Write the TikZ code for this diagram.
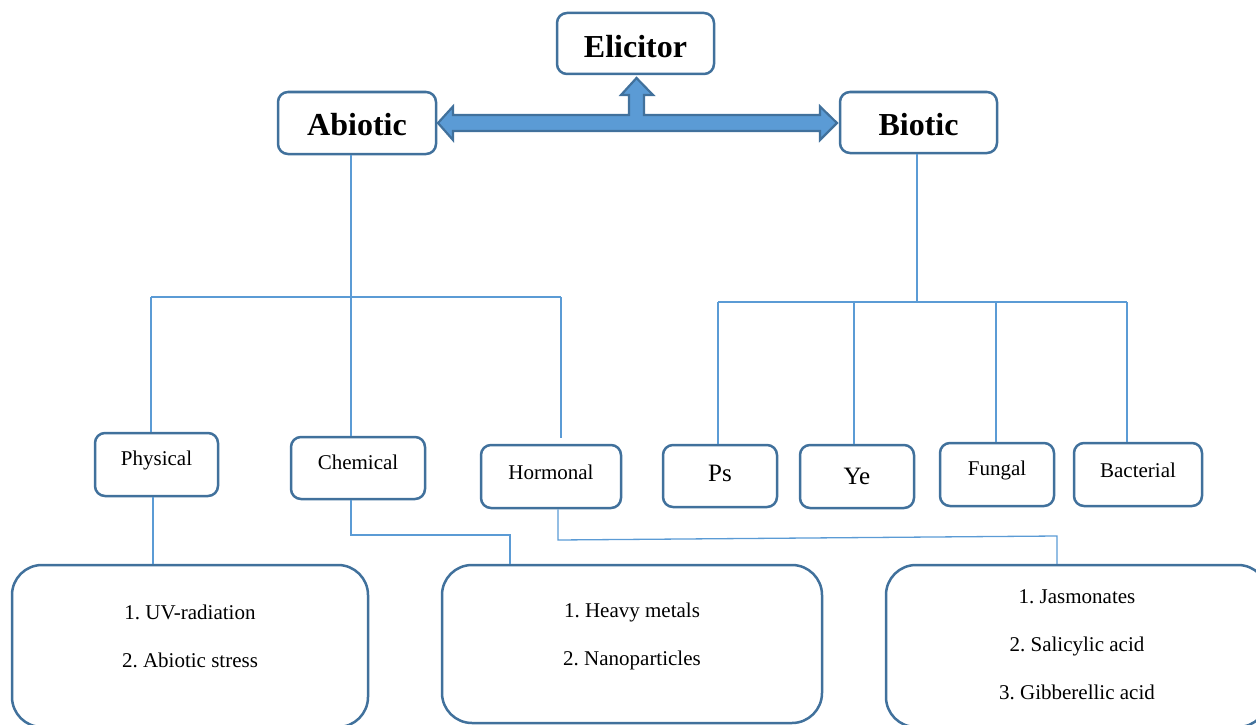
\documentclass[tikz,border=0pt]{standalone}
\usepackage{fontspec}
\setmainfont{Liberation Serif}
\frenchspacing
\definecolor{boxblue}{HTML}{41719C}
\definecolor{linkblue}{HTML}{5B9BD5}
\definecolor{arrowfill}{HTML}{5B9BD5}
\begin{document}
\begin{tikzpicture}[x=1pt,y=-1pt,
  boxbase/.style={draw=boxblue, line width=2.5pt, fill=white, inner sep=0pt, text=black},
  smallbox/.style={boxbase, rounded corners=10pt},
  bigbox/.style={boxbase, rounded corners=30pt},
  headtxt/.style={font=\fontsize{32}{36}\selectfont\bfseries},
  subtxt/.style={font=\fontsize{21}{25}\selectfont},
  lettertxt/.style={font=\fontsize{25}{30}\selectfont},
  listtxt/.style={font=\fontsize{21}{48}\selectfont, align=center},
  conn/.style={draw=linkblue, line width=1.3pt},
  blockarrow/.style={draw=boxblue, line width=2.2pt, fill=arrowfill, line join=miter}
]
\useasboundingbox (0,0) rectangle (1256,725);

% top level
\node[smallbox, minimum width=157pt, minimum height=61pt,
  label={[headtxt, yshift=-3pt]center:Elicitor}] (elic) at (635.5,43.5) {};
\node[smallbox, minimum width=158pt, minimum height=62pt,
  label={[headtxt, yshift=-2pt]center:Abiotic}] (abio) at (357,123) {};
\node[smallbox, minimum width=157pt, minimum height=61pt,
  label={[headtxt, yshift=-2pt]center:Biotic}] (bio) at (918.5,122.5) {};

% three-headed block arrow between the top boxes
\draw[blockarrow] (438,123) -- (453,106.5) -- (453,115) -- (629,115) -- (629,95)
  -- (621,95) -- (636.5,78) -- (653,95) -- (644,95) -- (644,115) -- (820,115)
  -- (820,106.5) -- (837,123) -- (820,140) -- (820,131) -- (453,131)
  -- (453,140) -- cycle;

% abiotic branch
\node[smallbox, minimum width=123pt, minimum height=63pt,
  label={[subtxt, yshift=4.5pt]center:Physical}] (phys) at (156.5,464.5) {};
\node[smallbox, minimum width=134pt, minimum height=62pt,
  label={[subtxt, yshift=5.5pt]center:Chemical}] (chem) at (358,468) {};
\node[smallbox, minimum width=140pt, minimum height=63pt,
  label={[subtxt, yshift=4.5pt]center:Hormonal}] (horm) at (551,476.5) {};

% biotic branch
\node[smallbox, minimum width=114pt, minimum height=62pt,
  label={[lettertxt, yshift=2.5pt]center:Ps}] (ps) at (720,476) {};
\node[smallbox, minimum width=114pt, minimum height=63pt,
  label={[lettertxt, yshift=0.5pt]center:Ye}] (ye) at (857,476.5) {};
\node[smallbox, minimum width=114pt, minimum height=63pt,
  label={[subtxt, yshift=4.5pt]center:Fungal}] (fung) at (997,474.5) {};
\node[smallbox, minimum width=128pt, minimum height=63pt,
  label={[subtxt, yshift=4.5pt]center:Bacterial}] (bact) at (1138,474.5) {};

% lists of examples
\node[bigbox, minimum width=356pt, minimum height=162pt,
  label={[listtxt, yshift=10pt]center:1. UV-radiation\\2. Abiotic stress}] (lbox) at (190,646) {};
\node[bigbox, minimum width=380pt, minimum height=158pt,
  label={[listtxt, yshift=8pt]center:1. Heavy metals\\2. Nanoparticles}] (mbox) at (632,644) {};
\node[bigbox, minimum width=382pt, minimum height=162pt,
  label={[listtxt, yshift=1pt]center:1. Jasmonates\\2. Salicylic acid\\3. Gibberellic acid}] (rbox) at (1077,646) {};

% junction points of the tree lines
\coordinate (aj) at (351,297);
\coordinate (aL) at (151,297);
\coordinate (aR) at (561,297);
\coordinate (hEnd) at (561,438);
\coordinate (bj) at (917,302);
\coordinate (bL) at (718,302);
\coordinate (bM) at (854,302);
\coordinate (bN) at (996,302);
\coordinate (bR) at (1127,302);
\coordinate (pc) at (153,565);
\coordinate (c1) at (351,535);
\coordinate (c2) at (510,535);
\coordinate (h1) at (558,540);
\coordinate (h2) at (1057,536);

% abiotic tree
\draw[conn] (abio.south -| aj) -- (aj);
\draw[conn] (aL) -- (aR);
\draw[conn] (aL) -- (aL |- phys.north);
\draw[conn] (aj) -- (aj |- chem.north);
\draw[conn] (aR) -- (hEnd);

% biotic tree
\draw[conn] (bio.south -| bj) -- (bj);
\draw[conn] (bL) -- (bR);
\draw[conn] (bL) -- (bL |- ps.north);
\draw[conn] (bM) -- (bM |- ye.north);
\draw[conn] (bN) -- (bN |- fung.north);
\draw[conn] (bR) -- (bR |- bact.north);

% links to the example lists
\draw[conn] (phys.south -| pc) -- (pc |- lbox.north);
\draw[conn] (chem.south -| c1) -- (c1) -- (c2) -- (c2 |- mbox.north);
\draw[conn] (horm.south -| h1) -- (h1) -- (h2) -- (h2 |- rbox.north);
\end{tikzpicture}
\end{document}
